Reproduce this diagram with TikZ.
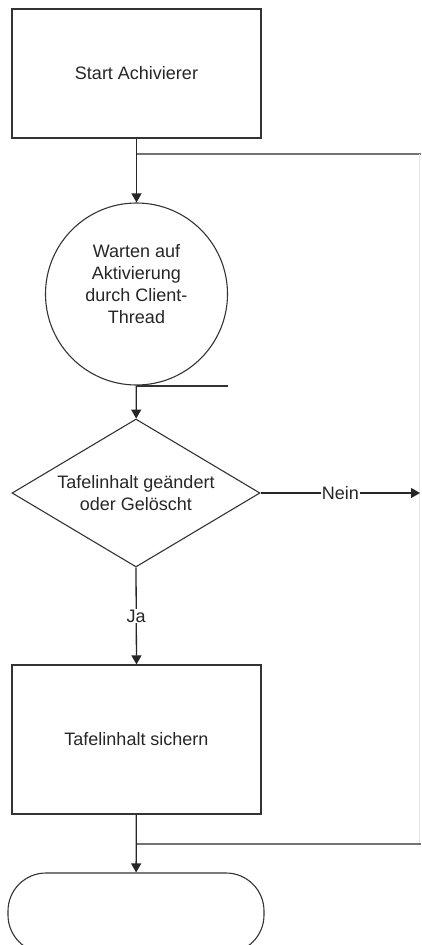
\documentclass[tikz,border=0pt]{standalone}
\usepackage{fontspec}
\setmainfont{Liberation Sans}
\usetikzlibrary{shapes.geometric, arrows.meta}

\tikzset{
  stepbox/.style={draw=black!80, line width=1.3pt, rectangle, minimum width=249pt,
    minimum height=129pt, inner sep=0pt, text=black!85},
  waitcircle/.style={draw=black!80, line width=1.1pt, circle, minimum size=182pt,
    inner sep=0pt, align=center, text=black!85},
  decision/.style={draw=black!80, line width=1.1pt, diamond, shape aspect=1.676,
    minimum width=248pt, minimum height=148pt, inner sep=0pt, align=center, text=black!85},
  terminal/.style={draw=black!80, line width=1.1pt, rectangle, rounded corners=38pt,
    minimum width=256pt, minimum height=80pt},
  flow/.style={draw=black!85, line width=1.3pt, -{Triangle[length=9pt,width=10pt]}},
  loopline/.style={draw=black!55, line width=2pt},
  faintline/.style={draw=black!10, line width=1pt},
  lbl/.style={fill=white, inner sep=1pt, text=black!85}
}

\begin{document}
\begin{tikzpicture}[x=1pt, y=-1pt, font=\fontsize{18}{22}\selectfont]
  \clip (0,0) rectangle (421,945);
  % Schritte
  \node[stepbox]                    (start) at (136.5,73.5)  {Start Achivierer};
  \node[waitcircle]                 (wait)  at (136.5,294)   {Warten auf\\Aktivierung\\durch Client-\\Thread\rule[-20pt]{0pt}{0pt}};
  \node[decision]                   (dec)   at (136,493)     {Tafelinhalt geändert\\oder Gelöscht};
  \node[stepbox, minimum height=149pt] (save) at (136.5,739.5) {Tafelinhalt sichern};
  \node[terminal]                   (stop)  at (136,913)     {};

  % Enden rechts
  \coordinate (topR)  at (421,154);
  \coordinate (botR)  at (421,844);
  \coordinate (edgeT) at (419,154);
  \coordinate (edgeB) at (419,844);
  \coordinate (waitR) at (228,386);
  \coordinate (neinR) at (420,493);

  % Verbindungen
  \draw[flow]      (start) -- (wait);
  \draw[loopline]  (start.south |- topR) -- (topR);
  \draw[faintline] (edgeT) -- (edgeB);
  \draw[draw=black!80, line width=1.1pt] (wait.south |- waitR) -- (waitR);
  \draw[flow]      (wait) -- (dec);
  \draw[flow]      (dec.east) -- node[lbl] (nein) {Nein} (neinR);
  \draw[flow]      (dec.south) -- node[lbl] (ja) {Ja} (save.north);
  \draw[flow]      (save) -- (stop);
  \draw[loopline]  (save.south |- botR) -- (botR);
\end{tikzpicture}
\end{document}
